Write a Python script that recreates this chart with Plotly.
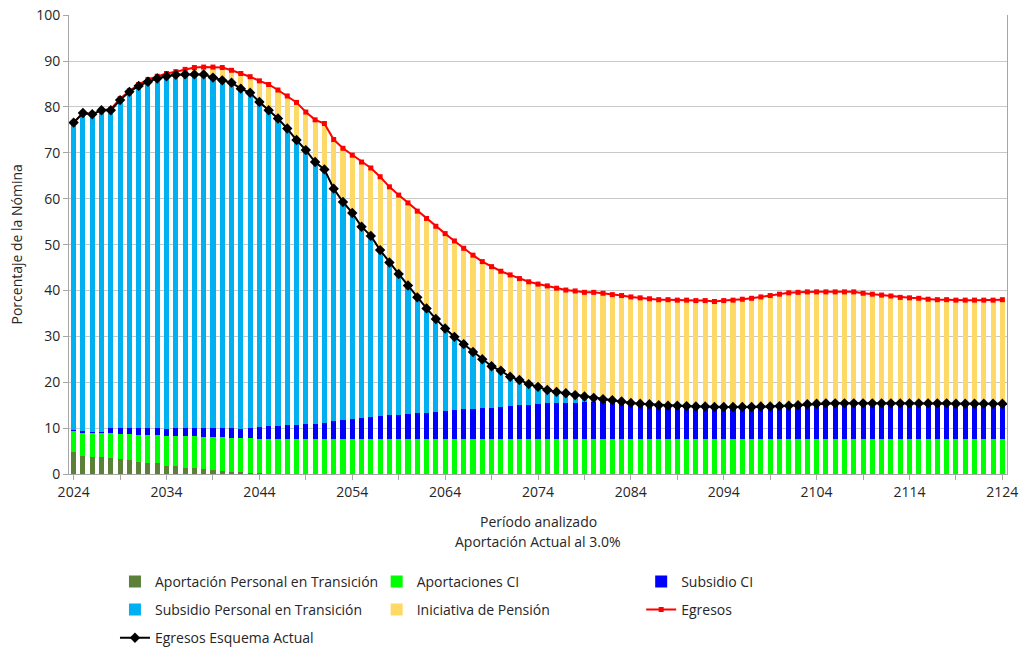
import plotly.graph_objects as go

# Years analysed
years = list(range(2024, 2125))

# Egresos (red line), % of payroll
egresos = [
    76.6, 78.7, 78.4, 79.3, 79.5, 81.8, 83.5, 84.9, 86.0, 86.7,
    87.3, 87.7, 88.2, 88.6, 88.7, 88.7, 88.6, 88.0, 87.3, 86.6,
    85.7, 84.9, 83.7, 82.4, 81.0, 78.9, 77.2, 76.4, 72.9, 71.0,
    69.5, 68.0, 66.7, 64.8, 62.6, 60.8, 59.1, 57.3, 55.7, 54.0,
    52.4, 50.8, 49.2, 47.7, 46.3, 45.2, 44.2, 43.4, 42.6, 41.9,
    41.4, 41.0, 40.5, 40.1, 39.9, 39.6, 39.6, 39.4, 39.1, 38.9,
    38.6, 38.4, 38.2, 38.0, 38.0, 37.9, 37.9, 37.8, 37.8, 37.6,
    37.8, 37.9, 38.1, 38.3, 38.6, 38.9, 39.2, 39.5, 39.6, 39.7,
    39.7, 39.7, 39.7, 39.7, 39.7, 39.4, 39.2, 39.0, 38.8, 38.5,
    38.4, 38.3, 38.1, 38.0, 38.0, 37.9, 37.9, 37.9, 37.9, 37.9,
    38.0,
]

# Egresos Esquema Actual (black line)
esquema_actual = [
    76.6, 78.7, 78.4, 79.3, 79.3, 81.5, 83.3, 84.6, 85.5, 86.2,
    86.7, 87.0, 87.1, 87.1, 87.1, 86.4, 85.8, 85.3, 84.0, 83.1,
    81.1, 79.3, 77.5, 75.3, 72.8, 70.6, 68.0, 66.4, 62.2, 59.3,
    56.9, 53.9, 51.9, 48.8, 46.1, 43.6, 41.1, 38.5, 36.1, 33.8,
    31.7, 29.9, 28.3, 26.6, 25.0, 23.5, 22.5, 21.2, 20.5, 19.6,
    19.0, 18.3, 17.9, 17.6, 17.2, 16.9, 16.6, 16.3, 16.1, 15.8,
    15.5, 15.3, 15.2, 15.0, 14.9, 14.9, 14.8, 14.7, 14.7, 14.6,
    14.6, 14.6, 14.6, 14.6, 14.7, 14.7, 14.8, 14.9, 15.0, 15.2,
    15.3, 15.4, 15.4, 15.4, 15.4, 15.4, 15.4, 15.4, 15.4, 15.4,
    15.4, 15.4, 15.4, 15.4, 15.4, 15.3, 15.3, 15.3, 15.3, 15.3,
    15.3,
]

# Aportación Personal en Transición (dark green)
aport_personal = [
    4.9, 3.9, 3.8, 3.6, 3.5, 3.3, 3.0, 2.7, 2.5, 2.3,
    1.8, 1.7, 1.4, 1.2, 1.1, 0.9, 0.6, 0.5, 0.4, 0.3,
    0.2, 0.1, 0, 0, 0, 0, 0, 0, 0, 0,
    0, 0, 0, 0, 0, 0, 0, 0, 0, 0,
    0, 0, 0, 0, 0, 0, 0, 0, 0, 0,
    0, 0, 0, 0, 0, 0, 0, 0, 0, 0,
    0, 0, 0, 0, 0, 0, 0, 0, 0, 0,
    0, 0, 0, 0, 0, 0, 0, 0, 0, 0,
    0, 0, 0, 0, 0, 0, 0, 0, 0, 0,
    0, 0, 0, 0, 0, 0, 0, 0, 0, 0,
    0,
]

# Aportaciones CI (green)
aport_ci = [
    4.5, 5.2, 5.2, 5.4, 5.4, 5.5, 5.8, 5.9, 6.0, 6.2,
    6.5, 6.6, 6.8, 7.0, 7.0, 7.1, 7.4, 7.4, 7.4, 7.5,
    7.5, 7.6, 7.6, 7.6, 7.6, 7.6, 7.6, 7.6, 7.6, 7.6,
    7.6, 7.6, 7.6, 7.6, 7.6, 7.6, 7.6, 7.6, 7.6, 7.6,
    7.6, 7.6, 7.6, 7.6, 7.6, 7.6, 7.6, 7.6, 7.6, 7.6,
    7.6, 7.6, 7.6, 7.6, 7.6, 7.6, 7.6, 7.6, 7.6, 7.6,
    7.6, 7.6, 7.6, 7.6, 7.6, 7.6, 7.6, 7.6, 7.6, 7.6,
    7.6, 7.6, 7.6, 7.6, 7.6, 7.6, 7.6, 7.6, 7.6, 7.6,
    7.6, 7.6, 7.6, 7.6, 7.6, 7.6, 7.6, 7.6, 7.6, 7.6,
    7.6, 7.6, 7.6, 7.6, 7.6, 7.6, 7.6, 7.6, 7.6, 7.6,
    7.6,
]

# Subsidio CI (blue)
subsidio_ci = [
    0.3, 0.3, 0.2, 0.2, 1.1, 1.3, 1.2, 1.4, 1.5, 1.5,
    1.6, 1.7, 1.8, 1.8, 1.9, 2.0, 2.0, 2.1, 2.1, 2.3,
    2.6, 2.7, 2.9, 3.0, 3.0, 3.4, 3.4, 3.6, 3.9, 4.2,
    4.4, 4.6, 4.8, 5.0, 5.2, 5.3, 5.5, 5.6, 5.8, 5.9,
    6.1, 6.3, 6.5, 6.6, 6.7, 6.8, 7.0, 7.3, 7.4, 7.5,
    7.6, 7.8, 7.9, 7.9, 7.9, 8.0, 8.1, 8.1, 8.2, 8.2,
    7.9, 7.7, 7.6, 7.4, 7.3, 7.3, 7.2, 7.1, 7.1, 7.0,
    7.0, 7.0, 7.0, 7.0, 7.1, 7.1, 7.2, 7.3, 7.4, 7.6,
    7.7, 7.8, 7.8, 7.8, 7.8, 7.8, 7.8, 7.8, 7.8, 7.8,
    7.8, 7.8, 7.8, 7.8, 7.8, 7.7, 7.7, 7.7, 7.7, 7.7,
    7.7,
]

# the two remaining stacks fill up to the lines
subsidio_personal = [round(max(e - a - b - c, 0), 2)
                     for e, a, b, c in zip(esquema_actual, aport_personal, aport_ci, subsidio_ci)]
iniciativa = [round(max(t - e, 0), 2) for t, e in zip(egresos, esquema_actual)]

tick_years = list(range(2024, 2125, 5))
tick_text = [str(y) if (y - 2024) % 10 == 0 else '' for y in tick_years]

FONT = 'Open Sans'
TXT = '#262626'
AXIS = '#a6a6a6'
GRID = '#c8c8c8'

fig = go.Figure()

bars = [
    ('Aportación Personal en Transición', aport_personal, '#5b8139', 'legend'),
    ('Aportaciones CI', aport_ci, '#00ff00', 'legend2'),
    ('Subsidio CI', subsidio_ci, '#0000ff', 'legend3'),
    ('Subsidio Personal en Transición', subsidio_personal, '#00b0f0', 'legend'),
    ('Iniciativa de Pensión', iniciativa, '#ffd966', 'legend2'),
]
for name, vals, col, leg in bars:
    fig.add_trace(go.Bar(x=years, y=vals, name=name, marker_color=col,
                         marker_line_width=0, width=0.55, legend=leg, legendgroup=name))

fig.add_trace(go.Scatter(x=years, y=egresos, name='Egresos', mode='lines+markers',
                         line=dict(color='#ff0000', width=2),
                         marker=dict(symbol='square', size=5, color='#ff0000'),
                         legend='legend3', legendgroup='Egresos'))
fig.add_trace(go.Scatter(x=years, y=esquema_actual, name='Egresos Esquema Actual',
                         mode='lines+markers',
                         line=dict(color='#000000', width=2),
                         marker=dict(symbol='diamond', size=8, color='#000000'),
                         legend='legend', legendgroup='Egresos Esquema Actual'))

leg_common = dict(orientation='v', yanchor='top', y=-0.2, xanchor='left',
                  traceorder='grouped', tracegroupgap=7, bgcolor='rgba(0,0,0,0)',
                  font=dict(family=FONT, size=14, color=TXT))

fig.update_layout(
    width=1021, height=647,
    margin=dict(l=69, r=14, t=15, b=173, autoexpand=False),
    paper_bgcolor='white', plot_bgcolor='white',
    barmode='stack', bargap=0,
    font=dict(family=FONT, size=14, color=TXT),
    legend=dict(leg_common, x=0.049),
    legend2=dict(leg_common, x=0.328),
    legend3=dict(leg_common, x=0.61),
    annotations=[
        dict(text='Porcentaje de la Nómina', textangle=-90, xref='paper', yref='paper',
             x=-0.0565, y=0.5, xanchor='center', yanchor='middle', showarrow=False,
             font=dict(family=FONT, size=14, color=TXT)),
        dict(text='Período analizado', xref='paper', yref='paper', x=0.5, y=-0.1024,
             xanchor='center', yanchor='middle', showarrow=False,
             font=dict(family=FONT, size=14, color=TXT)),
        dict(text='Aportación Actual al 3.0%', xref='paper', yref='paper', x=0.5, y=-0.148,
             xanchor='center', yanchor='middle', showarrow=False,
             font=dict(family=FONT, size=14, color=TXT)),
    ],
)

fig.update_xaxes(range=[2023.5, 2124.5], tickvals=tick_years, ticktext=tick_text,
                 ticks='outside', ticklen=5, tickcolor=AXIS, showline=True,
                 linecolor=AXIS, showgrid=False, zeroline=False, automargin=False,
                 tickfont=dict(family=FONT, size=14, color=TXT))
fig.update_yaxes(range=[0, 100.05], tickvals=list(range(0, 101, 10)), ticks='outside',
                 ticklen=5, tickcolor=AXIS, showline=True, linecolor=AXIS, mirror=True,
                 gridcolor=GRID, zeroline=False, automargin=False,
                 tickfont=dict(family=FONT, size=14, color=TXT))

# drop the page's default 8px body margin so the figure sits at the window corner
fig.write_html('out.html', config={'displayModeBar': False},
               post_script="document.body.style.margin='0';")
